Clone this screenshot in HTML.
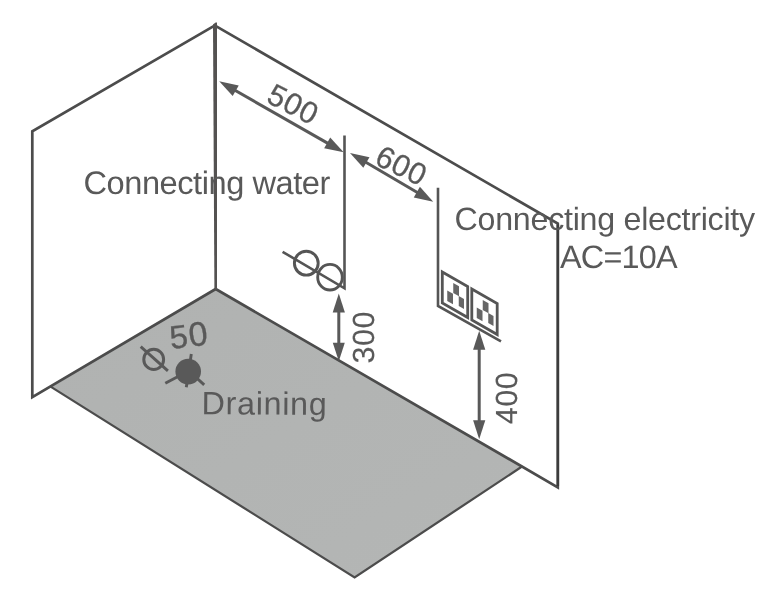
<!DOCTYPE html>
<html lang="en">
<head>
<meta charset="utf-8">
<title>Installation diagram</title>
<style>
  html, body { margin: 0; padding: 0; background: #ffffff; }
  body { width: 780px; height: 600px; overflow: hidden; }
  svg { display: block; will-change: transform; }
  text { font-family: "Liberation Sans", sans-serif; font-size: 32px; fill: #595959; text-rendering: geometricPrecision; }
</style>
</head>
<body>
<svg width="780" height="600" viewBox="0 0 780 600">
  <defs>
    <linearGradient id="floorGrad" x1="0" y1="0" x2="1" y2="1">
      <stop offset="0" stop-color="#b0b2b1"/>
      <stop offset="1" stop-color="#b4b6b5"/>
    </linearGradient>
  </defs>
  <rect width="780" height="600" fill="#ffffff"/>

  <!-- floor -->
  <polygon id="floor" points="215.7,288.7 521.5,466.6 354.6,577.3 51.5,387" fill="url(#floorGrad)"/>
  <polyline id="floorEdge" points="50.6,386.6 354.6,577.4 522.4,466.3" fill="none" stroke="#4c4c4c" stroke-width="2.25" stroke-linejoin="miter"/>

  <!-- walls -->
  <g id="walls" fill="none" stroke="#4c4c4c" stroke-width="2.7" stroke-linejoin="miter" stroke-linecap="butt">
    <polyline points="215,25.4 32.3,131.3 32.3,397.2 215.7,289"/>
    <polyline points="215.5,25.9 557.8,223.6 557.8,487.3 215.7,289"/>
    <line x1="557.9" y1="224.5" x2="557.9" y2="486" stroke="#3c3c3c" stroke-width="2.4"/>
    <polygon id="cornerLine" points="213,24.5 215.6,22.6 217,22.6 217,289.8 214.4,289.8" fill="#545251" stroke="none"/>
  </g>

  <!-- water connection -->
  <g id="water" fill="none" stroke="#555555" stroke-width="2.6">
    <polyline points="344.5,135.5 344.5,288.3 282.6,251.8" stroke-linejoin="miter"/>
    <circle cx="306.3" cy="263.2" r="11.9" stroke-width="2.9"/>
    <ellipse cx="330" cy="277.2" rx="12.3" ry="12.8" stroke-width="2.9"/>
  </g>

  <!-- electricity connection -->
  <g id="elec" fill="none" stroke="#555555" stroke-width="2.6">
    <polyline points="438,187.7 438,306 501,341.3"/>
  </g>
  <g id="socket1" transform="translate(441,270)">
    <polygon points="1.3,2 26.7,16.5 26.7,47.5 1.3,33" fill="#ffffff" stroke="#555555" stroke-width="2.8"/>
    <polygon points="12.25,13 18,16.3 18,26.3 12.25,23" fill="#666666"/>
    <polygon points="6.25,20.5 12,23.8 12,34.3 6.25,31" fill="#666666"/>
    <polygon points="17.75,26 23,29 23,39 17.75,36" fill="#666666"/>
  </g>
  <g id="socket2" transform="translate(470.5,287)">
    <polygon points="1.3,2 26.7,16.5 26.7,47.5 1.3,33" fill="#ffffff" stroke="#555555" stroke-width="2.8"/>
    <polygon points="12.25,13 18,16.3 18,26.3 12.25,23" fill="#666666"/>
    <polygon points="6.25,20.5 12,23.8 12,34.3 6.25,31" fill="#666666"/>
    <polygon points="17.75,26 23,29 23,39 17.75,36" fill="#666666"/>
  </g>

  <!-- dimension arrows -->
  <g id="arrows" fill="#595959" stroke="none">
    <g id="a500" transform="translate(219.2,81.3) rotate(29.7)">
      <rect x="10" y="-1.5" width="123.3" height="3"/>
      <polygon points="0,0 19,-6.1 19,6.1"/>
      <polygon points="143.3,0 124.3,-6.1 124.3,6.1"/>
    </g>
    <g id="a600" transform="translate(350,152.9) rotate(30.4)">
      <rect x="10" y="-1.5" width="76.5" height="3"/>
      <polygon points="0,0 19,-6.1 19,6.1"/>
      <polygon points="96.5,0 77.5,-6.1 77.5,6.1"/>
    </g>
    <g id="a300" transform="translate(338.8,293.6)">
      <rect x="-1.5" y="10" width="3" height="48"/>
      <polygon points="0,0 -6.1,19 6.1,19"/>
      <polygon points="0,67.6 -6,49.2 6,49.2"/>
    </g>
    <g id="a400" transform="translate(479.2,330.8)">
      <rect x="-1.5" y="10" width="3" height="88"/>
      <polygon points="0,0 -6.1,19 6.1,19"/>
      <polygon points="0,108.4 -6.1,89.4 6.1,89.4"/>
    </g>
  </g>

  <!-- drain -->
  <g id="drain" stroke="#595959" stroke-width="2.9" fill="none">
    <line x1="165.3" y1="383.2" x2="188" y2="371.2"/>
    <line x1="188" y1="370" x2="204.2" y2="384.9"/>
    <line x1="191.3" y1="354" x2="186.3" y2="387.2"/>
    <circle cx="188.2" cy="371.6" r="12.8" fill="#595959" stroke="none"/>
    <ellipse cx="153.7" cy="359.4" rx="9.9" ry="10.1" stroke-width="3"/>
    <line x1="140.7" y1="346.7" x2="167.9" y2="370.9"/>
  </g>

  <!-- labels -->
  <text id="tWater" x="83.44" y="194.3" style="font-size:32.6px;letter-spacing:-0.44px">Connecting water</text>
  <text id="tElec" x="454.6" y="229.8" style="font-size:32.2px;letter-spacing:-0.26px">Connecting electricity</text>
  <text id="tAC" x="560.04" y="268.3" style="font-size:32.4px;letter-spacing:-0.81px">AC=10A</text>
  <text id="tDrain" x="201.46" y="414.2" style="font-size:32.3px;letter-spacing:0.72px" transform="rotate(0.4 201.46 414.2)">Draining</text>
  <text id="t50" style="font-size:34px;stroke:#595959;stroke-width:0.35px" transform="translate(171,348.9) rotate(-6.7)"><tspan style="font-size:32.6px">5</tspan><tspan dx="0.9">0</tspan></text>
  <text id="t500" style="font-size:30.5px;letter-spacing:0.69px;stroke:#595959;stroke-width:0.3px" transform="translate(264.9,101.6) rotate(27)">500</text>
  <text id="t600" style="font-size:30.5px;letter-spacing:0.54px;stroke:#595959;stroke-width:0.3px" transform="translate(373.3,163.6) rotate(26.1)">600</text>
  <text id="t300" style="font-size:30.5px;letter-spacing:0.54px;stroke:#595959;stroke-width:0.15px" transform="translate(374.1,363.6) rotate(-90)">300</text>
  <text id="t400" style="font-size:30.5px;letter-spacing:0.54px;stroke:#595959;stroke-width:0.15px" transform="translate(517,424.3) rotate(-90)">400</text>
</svg>
</body>
</html>
